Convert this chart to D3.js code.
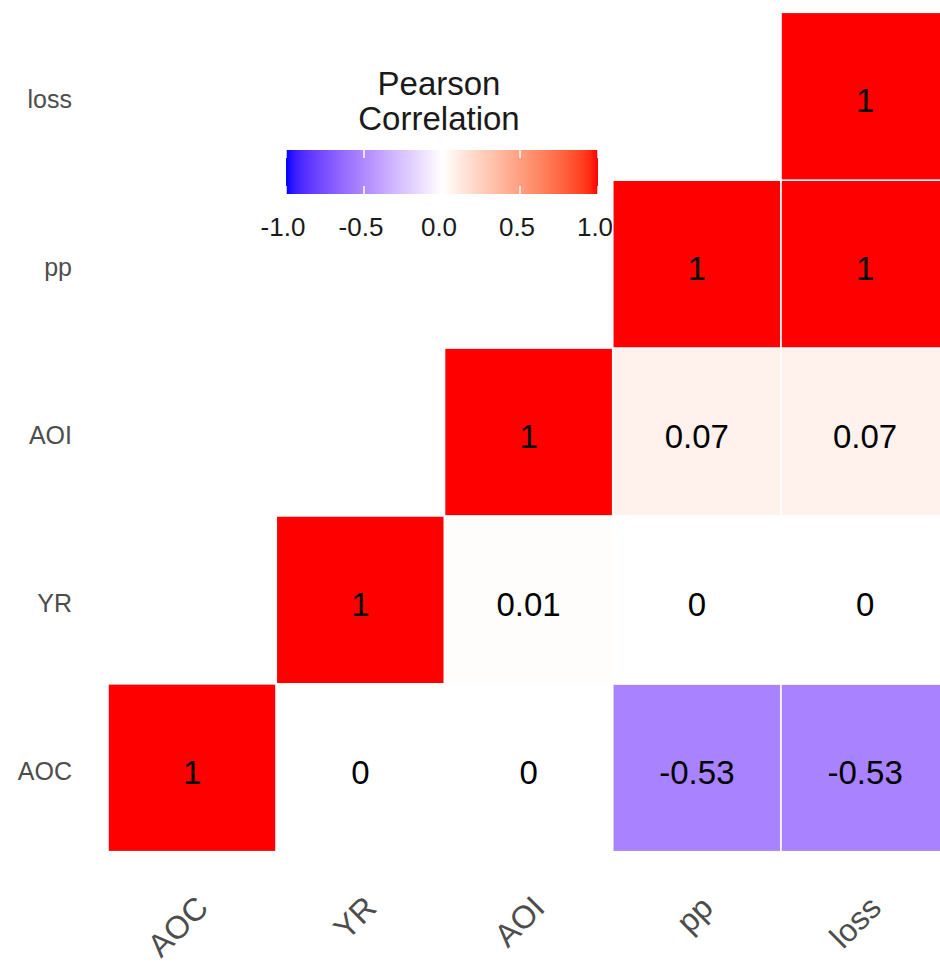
<!DOCTYPE html>
<html>
<head>
<meta charset="utf-8">
<script src="https://cdn.jsdelivr.net/npm/d3@7"></script>
<style>
  html, body { margin: 0; padding: 0; background: #fff; }
  svg { display: block; font-family: "Liberation Sans", Arial, sans-serif; }
</style>
</head>
<body>
<svg id="chart" width="940" height="966"></svg>
<script>
// Variables in plotting order (x left→right, y bottom→top)
const variables = ["AOC", "YR", "AOI", "pp", "loss"];

// Upper-triangle Pearson correlations, one array per row variable (null = not drawn)
const corrAOC  = [1, 0, 0, -0.53, -0.53];
const corrYR   = [null, 1, 0.01, 0, 0];
const corrAOI  = [null, null, 1, 0.07, 0.07];
const corrPP   = [null, null, null, 1, 1];
const corrLoss = [null, null, null, null, 1];

// Colour bar ticks
const legendTicks = [-1.0, -0.5, 0.0, 0.5, 1.0];
const legendTitle = ["Pearson", "Correlation"];

const rows = { AOC: corrAOC, YR: corrYR, AOI: corrAOI, pp: corrPP, loss: corrLoss };
const cells = [];
variables.forEach(rv => {
  rows[rv].forEach((v, j) => {
    if (v !== null) cells.push({ row: rv, col: variables[j], value: v });
  });
});

const svg = d3.select("#chart");

const x = d3.scaleBand().domain(variables).range([108, 108 + 5 * 168.25]);
const y = d3.scaleBand().domain(variables.slice().reverse()).range([12.3, 851.7]);

const color = d3.scaleLinear()
  .domain([-1, 0, 1])
  .range(["#0000ff", "#ffffff", "#ff0000"])
  .interpolate(d3.interpolateLab);

// ---- Legend (colour bar), drawn first so the tiles sit above it ----
const legend = svg.append("g");
const lx = d3.scaleLinear().domain([-1, 1]).range([286, 598]);
const barTop = 150, barH = 44;

legend.selectAll("text.title")
  .data(legendTitle)
  .join("text")
  .attr("class", "title")
  .attr("x", 439)
  .attr("y", (d, i) => 95 + i * 35)
  .attr("text-anchor", "middle")
  .attr("font-size", 33)
  .attr("fill", "#1a1a1a")
  .text(d => d);

const grad = svg.append("defs").append("linearGradient")
  .attr("id", "corrGrad").attr("x1", "0%").attr("x2", "100%");
d3.range(0, 41).forEach(i => {
  const t = i / 40;
  grad.append("stop")
    .attr("offset", (t * 100) + "%")
    .attr("stop-color", color(-1 + 2 * t));
});

legend.append("rect")
  .attr("x", lx(-1)).attr("y", barTop)
  .attr("width", lx(1) - lx(-1)).attr("height", barH)
  .attr("fill", "url(#corrGrad)");

legendTicks.forEach(t => {
  [[barTop, barTop + 8], [barTop + barH - 8, barTop + barH]].forEach(([a, b]) => {
    legend.append("line")
      .attr("x1", lx(t)).attr("x2", lx(t))
      .attr("y1", a).attr("y2", b)
      .attr("stroke", "#fff").attr("stroke-width", 1.5);
  });
});

legend.selectAll("text.tick")
  .data(legendTicks)
  .join("text")
  .attr("class", "tick")
  .attr("x", d => lx(d) - 3)
  .attr("y", 236)
  .attr("text-anchor", "middle")
  .attr("font-size", 26)
  .attr("fill", "#1a1a1a")
  .text(d => d3.format(".1f")(d).replace("−", "-"));

// ---- Tiles ----
const tiles = svg.append("g");
tiles.selectAll("rect")
  .data(cells)
  .join("rect")
  .attr("x", d => x(d.col))
  .attr("y", d => y(d.row))
  .attr("width", x.bandwidth())
  .attr("height", y.bandwidth())
  .attr("fill", d => color(d.value))
  .attr("stroke", "#fff")
  .attr("stroke-width", 1.6);

tiles.selectAll("text")
  .data(cells)
  .join("text")
  .attr("x", d => x(d.col) + x.bandwidth() / 2)
  .attr("y", d => y(d.row) + y.bandwidth() / 2)
  .attr("dy", "0.48em")
  .attr("text-anchor", "middle")
  .attr("font-size", 33)
  .attr("fill", "#000")
  .text(d => String(d.value));

// ---- Axes ----
const yAxis = d3.axisLeft(y).tickSize(0).tickPadding(36);
svg.append("g")
  .attr("transform", "translate(108,0)")
  .call(yAxis)
  .call(g => g.select(".domain").remove())
  .call(g => g.selectAll("text")
    .attr("font-family", "Liberation Sans, Arial, sans-serif")
    .attr("font-size", 25)
    .attr("fill", "#4d4d4d")
    .attr("dy", "0.48em"));

const xAxis = d3.axisBottom(x).tickSize(0).tickPadding(0);
svg.append("g")
  .attr("transform", "translate(0,851.7)")
  .call(xAxis)
  .call(g => g.select(".domain").remove())
  .call(g => g.selectAll("text")
    .attr("font-family", "Liberation Sans, Arial, sans-serif")
    .attr("font-size", 32)
    .attr("fill", "#4d4d4d")
    .attr("text-anchor", "end")
    .attr("dy", 0)
    .attr("y", 0)
    .attr("transform", "translate(18,58) rotate(-45)"));
</script>
</body>
</html>
